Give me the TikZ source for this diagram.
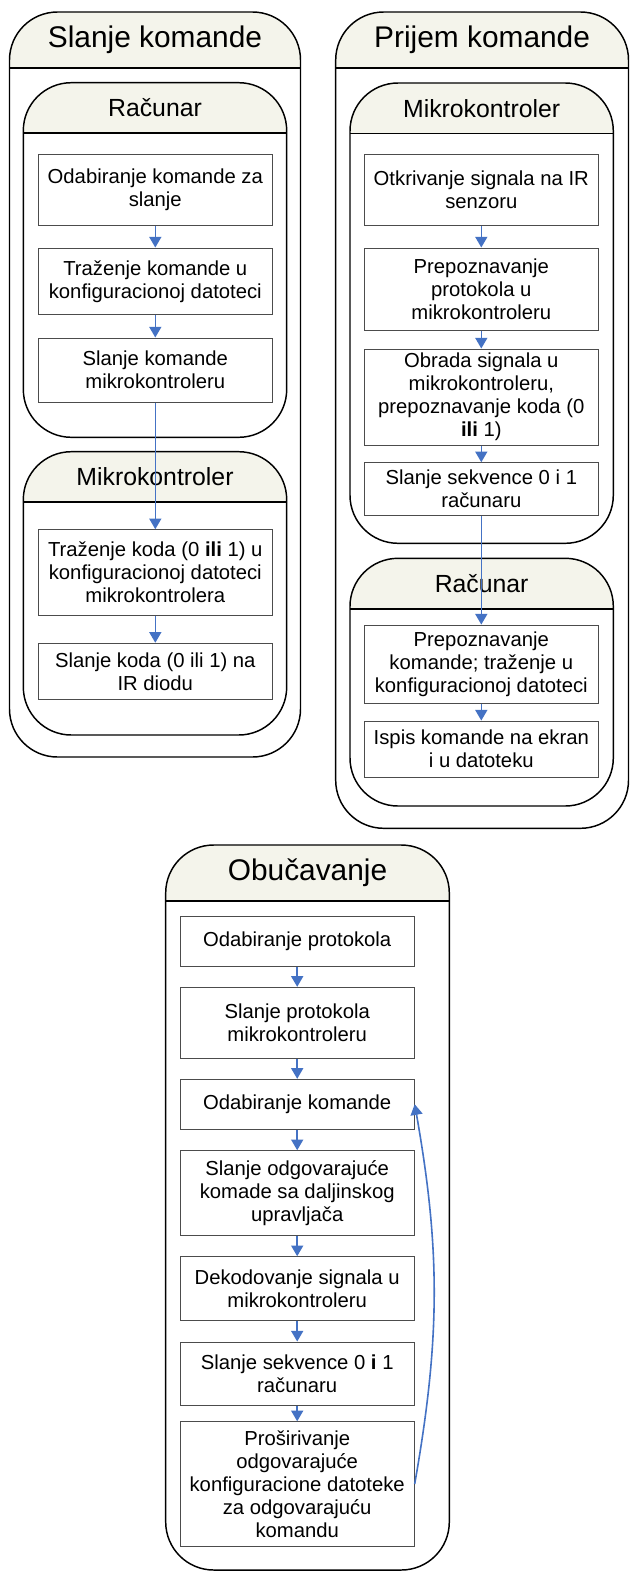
\documentclass[tikz,border=0pt]{standalone}
\usepackage{fontspec}
\setmainfont{Liberation Sans}
\usetikzlibrary{arrows.meta}

\definecolor{zaglavlje}{RGB}{244,244,235}
\definecolor{strelica}{RGB}{68,114,196}

\begin{document}
\begin{tikzpicture}[x=0.75pt, y=-0.75pt,
  korak/.style={draw=black!70, line width=0.75pt, minimum width=175.5pt,
    align=center, inner sep=2pt, font=\fontsize{15.2}{17.3}\selectfont},
  traka/.style={draw, line width=1.1pt, rounded corners=36pt},
  naslov/.style={font=\fontsize{22.4}{26}\selectfont},
  podnaslov/.style={font=\fontsize{18.6}{22}\selectfont},
  tok/.style={draw=strelica, line width=1.2pt, -{Triangle[length=8pt,width=9pt]}}]

  % pozadina
  \fill[white] (0,0) rectangle (630,1571);
  \useasboundingbox (0,0) rectangle (630,1571);

  % glavne trake
  \foreach \ime/\xa/\ya/\xb/\yb/\tekst in {slanje/9.5/12/300.5/757/Slanje komande,
      prijem/335.7/12/628.5/828.3/Prijem komande,
      obuka/165.7/845/449.3/1570/Obučavanje} {
    \begin{scope}
      \clip[rounded corners=36pt] (\xa,\ya) rectangle (\xb,\yb);
      \fill[zaglavlje] (\xa,\ya) rectangle (\xb,\ya+56);
    \end{scope}
    \draw[traka] (\xa,\ya) rectangle (\xb,\yb);
    \draw[line width=1.1pt] (\xa,\ya+56) -- (\xb,\ya+56);
    \node[naslov] (\ime) at ({(\xa+\xb)/2},\ya+28) {\tekst};
  }

  % unutrasnje trake
  \foreach \ime/\xa/\ya/\xb/\yb/\tekst in {sr/23.3/82.7/286.7/437.3/Računar,
      sm/23.3/451.7/286.7/735/Mikrokontroler,
      pm/350/83/613.3/543.3/Mikrokontroler,
      pr/350/558.3/613.3/806/Računar} {
    \begin{scope}
      \clip[rounded corners=36pt] (\xa,\ya) rectangle (\xb,\yb);
      \fill[zaglavlje] (\xa,\ya) rectangle (\xb,\ya+50.5);
    \end{scope}
    \draw[traka] (\xa,\ya) rectangle (\xb,\yb);
    \draw[line width=1.1pt] (\xa,\ya+50.5) -- (\xb,\ya+50.5);
    \node[podnaslov] (\ime) at ({(\xa+\xb)/2},\ya+25.3) {\tekst};
  }

  % slanje komande
  \node[korak, minimum height=53.5pt] (s1) at (155.3,189.7) {Odabiranje komande za\\slanje};
  \node[korak, minimum height=50.2pt] (s2) at (155.3,281.5) {Traženje komande u\\konfiguracionoj datoteci};
  \node[korak, minimum height=48pt] (s3) at (155.3,370) {Slanje komande\\mikrokontroleru};
  \node[korak, minimum height=64pt] (s4) at (155.3,572.4) {Traženje koda (0 \textbf{ili} 1) u\\konfiguracionoj datoteci\\mikrokontrolera};
  \node[korak, minimum height=42.2pt] (s5) at (155.3,671.4) {Slanje koda (0 ili 1) na\\IR diodu};

  % prijem komande
  \node[korak, minimum height=53.5pt] (p1) at (481.3,189.7) {Otkrivanje signala na IR\\senzoru};
  \node[korak, minimum height=61.5pt] (p2) at (481.3,289) {Prepoznavanje\\protokola u\\mikrokontroleru};
  \node[korak, minimum height=72pt] (p3) at (481.3,397) {Obrada signala u\\mikrokontroleru,\\prepoznavanje koda (0\\\textbf{ili} 1)};
  \node[korak, minimum height=39.7pt] (p4) at (481.3,489.2) {Slanje sekvence 0 i 1\\računaru};
  \node[korak, minimum height=58.7pt] (p5) at (481.3,664.2) {Prepoznavanje\\komande; traženje u\\konfiguracionoj datoteci};
  \node[korak, minimum height=42.2pt] (p6) at (481.3,749.2) {Ispis komande na ekran\\i u datoteku};

  % obucavanje
  \node[korak, minimum height=37pt] (o1) at (297.2,941.4) {Odabiranje protokola};
  \node[korak, minimum height=53.2pt] (o2) at (297.2,1022.8) {Slanje protokola\\mikrokontroleru};
  \node[korak, minimum height=37.3pt] (o3) at (297.2,1104.2) {Odabiranje komande};
  \node[korak, minimum height=63.7pt] (o4) at (297.2,1193.2) {Slanje odgovarajuće\\komade sa daljinskog\\upravljača};
  \node[korak, minimum height=47.7pt] (o5) at (297.2,1288.5) {Dekodovanje signala u\\mikrokontroleru};
  \node[korak, minimum height=47.5pt] (o6) at (297.2,1373.7) {Slanje sekvence 0 \textbf{i} 1\\računaru};
  \node[korak, minimum height=93.2pt] (o7) at (297.2,1483.9) {Proširivanje\\odgovarajuće\\konfiguracione datoteke\\za odgovarajuću\\komandu};

  % strelice
  \foreach \a/\b in {s1/s2, s2/s3, s3/s4, s4/s5, p1/p2, p2/p3, p3/p4, p4/p5, p5/p6,
      o1/o2, o2/o3, o3/o4, o4/o5, o5/o6, o6/o7}
    \draw[tok] (\a) -- (\b);
  \draw[tok] (o7.east) to[bend right=10] (o3.east);
\end{tikzpicture}
\end{document}
